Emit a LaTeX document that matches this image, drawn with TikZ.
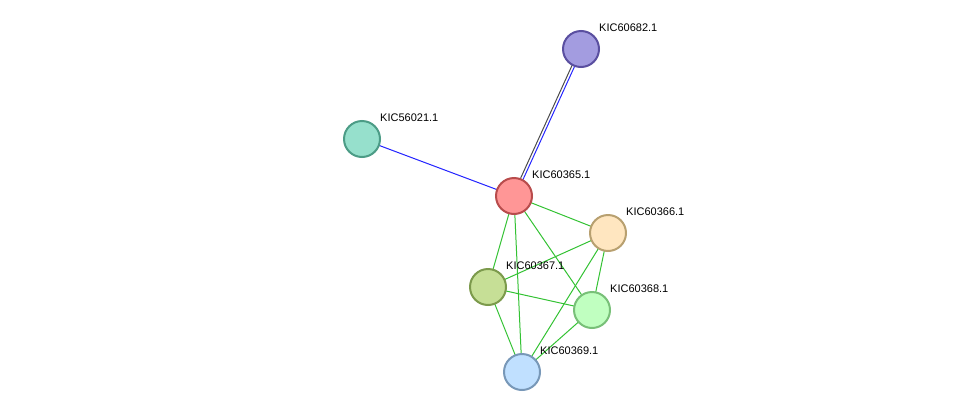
\documentclass[tikz,border=0pt]{standalone}
\usepackage{fontspec}
\setmainfont{Liberation Sans}
\begin{document}
\begin{tikzpicture}[x=1pt,y=-1pt,
  prot/.style={circle,minimum size=36pt,inner sep=0pt,line width=2pt},
  lab/.style={anchor=west,font=\fontsize{11}{12}\selectfont,inner sep=0pt},
  g/.style={draw=green!70!black!80,line width=1pt},
  b/.style={draw=blue!85!white,line width=1pt}]
\useasboundingbox (0,0) rectangle (976,418);
\definecolor{c1}{HTML}{A39CE0}\definecolor{d1}{HTML}{5A4FA0}
\definecolor{c2}{HTML}{96E0CC}\definecolor{d2}{HTML}{4C9C86}
\definecolor{c3}{HTML}{FF9696}\definecolor{d3}{HTML}{B84C4C}
\definecolor{c4}{HTML}{FFE6C0}\definecolor{d4}{HTML}{B8A070}
\definecolor{c5}{HTML}{C6DF96}\definecolor{d5}{HTML}{7C9A4C}
\definecolor{c6}{HTML}{C0FFC0}\definecolor{d6}{HTML}{78C078}
\definecolor{c7}{HTML}{C0E0FF}\definecolor{d7}{HTML}{7898B8}
\coordinate (p682) at (581,49);
\coordinate (p021) at (362,139);
\coordinate (p365) at (514,196);
\coordinate (p366) at (608,233);
\coordinate (p367) at (488,287);
\coordinate (p368) at (592,310);
\coordinate (p369) at (522,372);
\foreach \a/\b in {365/366,365/367,365/368,365/369,366/367,366/368,366/369,367/368,367/369,368/369}
  \draw[g] (p\a) -- (p\b);
\draw[b] (p021) -- (p365);
\draw[draw=black!70,line width=1pt] ([xshift=-1.5pt]p682) -- ([xshift=-1.5pt]p365);
\draw[b] ([xshift=1.5pt]p682) -- ([xshift=1.5pt]p365);
\node[prot,fill=c1,draw=d1] (n682) at (p682) {};
\node[prot,fill=c2,draw=d2] (n021) at (p021) {};
\node[prot,fill=c3,draw=d3] (n365) at (p365) {};
\node[prot,fill=c4,draw=d4] (n366) at (p366) {};
\node[prot,fill=c5,draw=d5] (n367) at (p367) {};
\node[prot,fill=c6,draw=d6] (n368) at (p368) {};
\node[prot,fill=c7,draw=d7] (n369) at (p369) {};
\node[lab] (l682) at (599,28) {KIC60682.1};
\node[lab] (l021) at (380,118) {KIC56021.1};
\node[lab] (l365) at (532,175) {KIC60365.1};
\node[lab] (l366) at (626,212) {KIC60366.1};
\node[lab] (l367) at (506,266) {KIC60367.1};
\node[lab] (l368) at (610,289) {KIC60368.1};
\node[lab] (l369) at (540,351) {KIC60369.1};
\end{tikzpicture}
\end{document}
